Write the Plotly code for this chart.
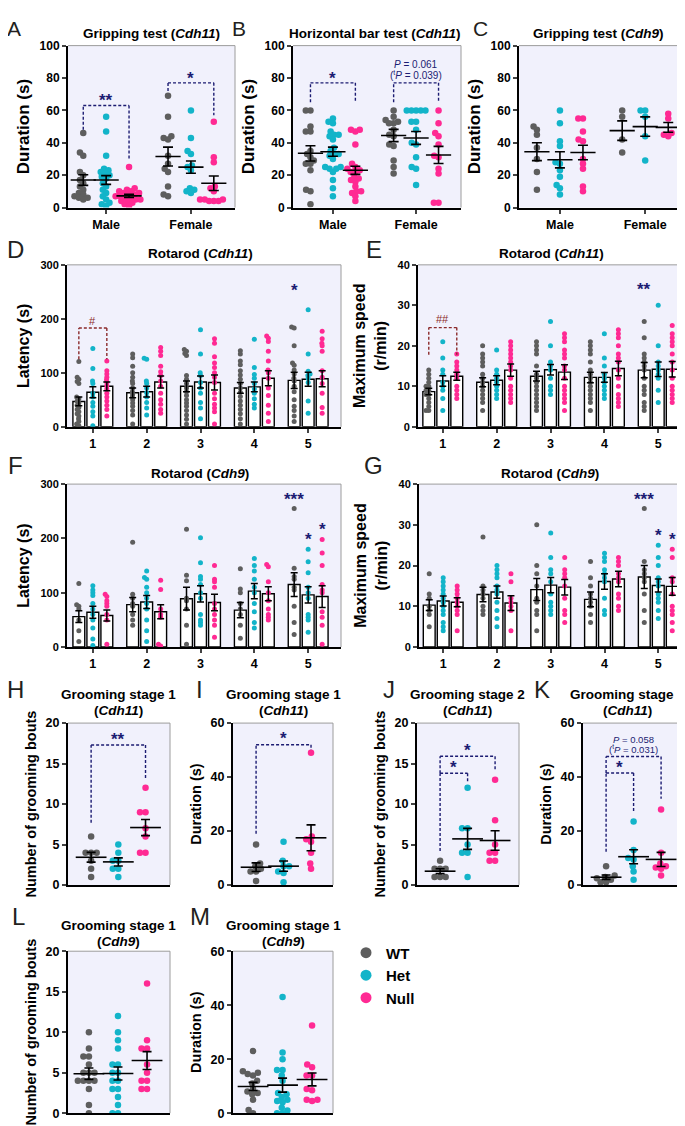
import math
import plotly.graph_objects as go

W, H = 685, 1126
GENOTYPES = ["WT", "Het", "Null"]
COLORS = ["#5e5e5e", "#13b4c9", "#ff2a93"]
NAVY = "#1c1c72"
DARKRED = "#8b2a2a"
BG = "#f1f1fc"
FONT = "Liberation Sans, Arial, sans-serif"

# ---------------- DATA ----------------
sexes = ["Male", "Female"]
days = [1, 2, 3, 4, 5]

# A: Gripping test (Cdh11) [sex][genotype]
A_points = [
    [[46, 34, 32, 22, 20, 17, 15, 13, 11, 9, 8, 7, 6, 5, 6],
     [56, 47, 32, 24, 23, 22, 21, 19, 18, 15, 13, 11, 9, 7, 5, 3, 2, 1, 20],
     [25, 12, 11, 10, 10, 9, 9, 8, 8, 7, 7, 6, 6, 5, 5, 4, 4, 3, 2, 1]],
    [[69, 56, 44, 43, 42, 32, 27, 24, 22, 13, 8, 7],
     [60, 43, 35, 33, 26, 25, 23, 12, 11, 10, 9],
     [53, 31, 28, 13, 10, 5, 5, 4, 4, 4, 5, 12]],
]
A_mean = [[17, 17, 7.2], [31.5, 25, 15]]
A_sem = [[3.3, 2.7, 1.0], [5.8, 3.8, 4.5]]

# B: Horizontal bar test (Cdh11)
B_points = [
    [[60, 60, 50, 47, 47, 35, 33, 31, 29, 27, 27, 23, 11, 10, 2],
     [55, 53, 52, 47, 45, 45, 44, 42, 37, 35, 33, 33, 32, 30, 25, 25, 24, 24, 22, 17, 12, 7],
     [48, 48, 47, 39, 27, 25, 24, 23, 22, 22, 19, 18, 17, 16, 13, 10, 10, 9, 7, 4]],
    [[60, 56, 54, 53, 52, 52, 48, 45, 44, 39, 38, 29, 25, 21],
     [60, 60, 60, 60, 60, 53, 53, 48, 40, 39, 31, 25, 24, 14],
     [60, 52, 46, 44, 39, 32, 31, 24, 21, 3, 3]],
]
B_mean = [[33.5, 34.5, 23], [44.5, 43, 32.5]]
B_sem = [[4.7, 2.8, 2.5], [3.8, 4.0, 5.3]]

# C: Gripping test (Cdh9)
C_points = [
    [[50, 48, 45, 37, 30, 22, 11],
     [60, 52, 41, 38, 28, 27, 23, 19, 14, 12, 8],
     [55, 55, 47, 42, 41, 30, 27, 24, 13, 10]],
    [[60, 56, 42, 34],
     [60, 60, 56, 44, 29],
     [58, 55, 46, 44, 45]],
]
C_mean = [[34.5, 29.5, 34], [47.5, 50, 49.5]]
C_sem = [[5.5, 5.0, 4.5], [6.0, 6.0, 3.0]]

# D: Rotarod latency (Cdh11) [genotype][day]
D_points = [
    [[121, 92, 88, 84, 80, 55, 52, 48, 44, 40, 36, 32, 28, 24, 20, 15, 10, 5, 2],
     [135, 128, 112, 100, 92, 85, 80, 72, 65, 60, 55, 50, 44, 38, 30, 22, 5],
     [143, 140, 136, 132, 95, 88, 80, 72, 65, 58, 50, 44, 38, 30, 22, 14, 5],
     [141, 135, 122, 115, 104, 96, 88, 80, 72, 64, 56, 48, 40, 32, 24, 15, 5],
     [185, 183, 150, 118, 114, 105, 98, 90, 85, 75, 65, 50, 38, 30, 20, 10]],
    [[145, 108, 85, 80, 62, 55, 45, 38, 28, 20, 2],
     [127, 125, 85, 80, 72, 63, 55, 45, 35, 22],
     [180, 135, 100, 95, 82, 72, 62, 45, 35, 15],
     [162, 110, 97, 90, 80, 70, 62, 52, 42, 35],
     [217, 135, 103, 98, 95, 90, 82, 48, 25]],
    [[122, 104, 98, 92, 87, 82, 76, 70, 62, 55, 48, 40, 32, 20],
     [147, 140, 132, 112, 102, 95, 85, 75, 62, 50, 42, 32, 25],
     [163, 155, 130, 118, 110, 100, 92, 82, 62, 52, 42, 35, 28, 5],
     [168, 164, 158, 140, 122, 105, 100, 90, 72, 58, 40, 25, 10],
     [177, 163, 155, 150, 140, 104, 92, 80, 62, 36, 25]],
]
D_mean = [[47, 63, 75, 72, 86], [64, 65, 83, 74, 88], [75, 83, 82, 90, 89]]
D_sem = [[8, 9, 10, 10, 15], [10, 10, 11, 9, 13], [8, 11, 14, 14, 15]]

# E: Rotarod maximum speed (Cdh11)
E_points = [
    [[14, 13, 12, 11, 10, 10, 9, 9, 8, 8, 7, 6, 5, 4, 4],
     [20, 18, 17, 16, 15, 13, 12, 11, 10, 9, 8, 7, 6, 4],
     [21, 20, 19, 18, 15, 13, 12, 11, 10, 9, 8, 7, 6, 5, 4],
     [21, 20, 19, 18, 16, 14, 13, 12, 11, 10, 9, 8, 7, 6, 4],
     [26, 22, 18, 17, 16, 15, 14, 12, 10, 9, 8, 6, 5, 4]],
    [[21, 17, 14, 13, 11, 10, 9, 7, 4],
     [19, 14, 13, 12, 11, 10, 9, 8, 7],
     [26, 20, 16, 15, 14, 12, 10, 9, 8],
     [23, 17, 15, 13, 12, 11, 10, 9, 8, 7],
     [30, 20, 16, 15, 14, 13, 12, 9, 6]],
    [[18, 16, 15, 14, 13, 12, 10, 9, 8, 7],
     [21, 20, 19, 18, 17, 16, 15, 14, 12, 10, 9, 8, 7, 6],
     [23, 22, 21, 19, 18, 17, 15, 14, 12, 10, 9, 8, 7, 6, 4],
     [24, 23, 22, 20, 18, 17, 16, 14, 12, 10, 8, 7, 6, 5],
     [25, 23, 22, 21, 20, 18, 16, 14, 12, 10, 9, 8, 7, 6]],
]
E_mean = [[8.7, 11, 12.5, 12.2, 14], [11.3, 11.5, 14.1, 12.2, 14.2], [12.5, 14, 13.5, 14.4, 14.2]]
E_sem = [[0.8, 1.1, 1.2, 1.3, 1.9], [1.3, 1.1, 1.3, 1.2, 1.8], [1.0, 1.5, 1.8, 1.8, 1.9]]

# F: Rotarod latency (Cdh9)
F_points = [
    [[117, 78, 75, 70, 50, 30, 10],
     [193, 97, 90, 80, 75, 60, 50, 40],
     [217, 132, 122, 90, 85, 70, 40, 5],
     [144, 107, 100, 80, 70, 60, 40, 16],
     [255, 145, 130, 125, 110, 105, 75, 45, 23]],
    [[113, 105, 100, 95, 80, 70, 60, 50, 35, 15, 3],
     [140, 128, 125, 110, 100, 90, 80, 70, 50, 30, 10],
     [201, 155, 130, 125, 115, 100, 90, 60, 50, 45, 40],
     [163, 150, 140, 125, 110, 100, 80, 65, 45, 35],
     [180, 157, 137, 110, 100, 90, 60, 55, 50, 27]],
    [[97, 93, 85, 80, 75, 60, 50, 5],
     [123, 106, 70, 60, 55, 5, 2],
     [150, 125, 120, 110, 80, 70, 60, 50, 40, 18],
     [152, 148, 120, 100, 85, 70, 60, 55, 50],
     [198, 173, 150, 115, 105, 100, 65, 55, 40, 5]],
]
F_mean = [[56, 78, 89, 68, 115], [64, 83, 98, 103, 96], [58, 65, 82, 98, 93]]
F_sem = [[11, 13, 21, 14, 22], [11, 12, 15, 14, 15], [10, 13, 15, 13, 20]]

# G: Rotarod maximum speed (Cdh9)
G_points = [
    [[18, 13, 12, 10, 9, 8, 5],
     [27, 15, 14, 13, 12, 10, 9, 8],
     [30, 20, 18, 15, 12, 11, 9, 8, 4],
     [21, 17, 15, 13, 12, 11, 10, 8, 6],
     [34, 21, 19, 18, 17, 16, 13, 9, 6]],
    [[17, 16, 15, 14, 13, 12, 11, 10, 9, 8, 6, 5, 4],
     [20, 19, 18, 17, 15, 14, 13, 11, 9, 7, 5],
     [28, 22, 19, 18, 16, 13, 11, 10, 9, 8],
     [23, 22, 21, 19, 18, 17, 16, 12, 9, 8],
     [25, 22, 20, 17, 16, 15, 13, 12, 11, 9, 7]],
    [[15, 14, 13, 12, 11, 10, 9, 8, 4],
     [18, 16, 12, 11, 10, 9, 4],
     [22, 19, 18, 17, 15, 12, 9, 8, 6],
     [22, 21, 20, 18, 17, 16, 13, 12, 10, 9],
     [24, 22, 17, 16, 13, 10, 9, 8, 6, 4]],
]
G_mean = [[10.3, 12.9, 14.1, 11.7, 17.2], [11.3, 13.5, 15.2, 16.1, 15.1], [11, 10.8, 14.7, 16.7, 14.9]]
G_sem = [[1.3, 1.8, 2.7, 1.8, 2.8], [1.2, 1.5, 1.9, 1.9, 1.6], [1.1, 1.8, 1.9, 1.9, 2.2]]

# H-M: grooming [genotype]
H_points = [[6, 4, 4, 4, 3, 2, 1], [5, 4, 3, 3, 2, 2, 1], [12, 9, 9, 7, 6, 4, 4]]
H_mean, H_sem = [3.43, 2.86, 7.1], [0.6, 0.5, 1.0]
I_points = [[15, 8, 7, 6, 5, 5, 1.5], [16, 9, 7, 7, 5, 4.5, 1], [49, 18, 17, 16, 12, 8, 6]]
I_mean, I_sem = [6.6, 7.0, 17.5], [1.6, 1.9, 4.8]
J_points = [[3, 2, 2, 2, 1, 1, 1], [12, 7, 7, 5, 4, 4, 1], [13, 8, 5, 4, 4, 3, 3]]
J_mean, J_sem = [1.71, 5.7, 5.5], [0.3, 1.3, 1.2]
K_points = [[7, 3.5, 3, 2.5, 2, 1, 1], [23.5, 13, 10, 9.5, 7, 5, 2], [28, 12, 8, 7, 6.5, 6, 3.5]]
K_mean, K_sem = [2.9, 10.5, 9.5], [0.8, 2.6, 2.6]
L_points = [[10, 8, 7, 7, 6, 5, 5, 5, 4, 4, 4, 4, 3, 1, 0],
            [12, 10, 9, 8, 6, 6, 5, 5, 4, 4, 3, 3, 2, 1, 0, 0],
            [16, 9, 8, 8, 6, 5, 4, 4, 3, 3]]
L_mean, L_sem = [4.87, 4.9, 6.5], [0.7, 0.8, 1.1]
M_points = [[23, 15.5, 15, 14.5, 14, 12, 11, 9, 8, 7.5, 7, 5, 1.2, 0],
            [43, 22.5, 20, 16, 16, 14, 12, 7.5, 7, 6, 5, 4.5, 4, 2, 1, 0, 0],
            [32.5, 18, 17, 14, 14, 9, 8.5, 5, 5, 4.5]]
M_mean, M_sem = [9.9, 10.4, 12.5], [1.5, 2.6, 2.4]

# ---------------- LAYOUT HELPERS ----------------
fig = go.Figure()
layout = dict(width=W, height=H, margin=dict(l=0, r=0, t=0, b=0),
              paper_bgcolor="white", plot_bgcolor=BG, font=dict(family=FONT, color="black"),
              showlegend=True)
shapes, annotations = [], []


def refs(n):
    return ("x" if n == 1 else f"x{n}"), ("y" if n == 1 else f"y{n}")


def add_axes(n, box, xr, yr, ytick, ytitle, xtickvals=None, xticktext=None, tstand=6, tsize=16,
             yfs=11, xfs=12.5):
    x0, x1, y0, y1 = box
    xk = "xaxis" if n == 1 else f"xaxis{n}"
    yk = "yaxis" if n == 1 else f"yaxis{n}"
    xr_, yr_ = refs(n)
    xa = dict(domain=[x0 / W, x1 / W], range=xr, anchor=yr_, showline=True, linecolor="black",
              linewidth=2, showgrid=False, zeroline=False, fixedrange=True)
    if xtickvals:
        xa.update(ticks="outside", ticklen=4, tickwidth=1.5, tickvals=xtickvals, ticktext=xticktext,
                  tickfont=dict(size=xfs, weight="bold"))
    else:
        xa.update(ticks="", showticklabels=False)
    layout[xk] = xa
    layout[yk] = dict(domain=[1 - y1 / H, 1 - y0 / H], range=yr, anchor=xr_, showline=True, linecolor="black",
                      linewidth=2, showgrid=False, zeroline=False, fixedrange=True,
                      ticks="outside", ticklen=4, tickwidth=1.5, tickvals=ytick,
                      tickfont=dict(size=yfs, weight="bold"),
                      title=dict(text=ytitle, standoff=tstand, font=dict(size=tsize, weight="bold")))
    shapes.append(dict(type="line", xref="paper", yref="paper", x0=x0 / W, x1=x1 / W,
                       y0=1 - y0 / H, y1=1 - y0 / H, line=dict(color="#9c9c9c", width=1), layer="above"))
    shapes.append(dict(type="line", xref="paper", yref="paper", x0=x1 / W, x1=x1 / W,
                       y0=1 - y0 / H, y1=1 - y1 / H, line=dict(color="#9c9c9c", width=1), layer="above"))


def swarm(vals, diam, ky):
    idx = sorted(range(len(vals)), key=lambda i: vals[i])
    placed, offs = [], [0.0] * len(vals)
    for i in idx:
        y = vals[i] * ky
        cands = [0.0]
        for (px, py) in placed:
            dy = abs(py - y)
            if dy < diam:
                dx = math.sqrt(diam * diam - dy * dy)
                cands += [px + dx, px - dx]
        cands.sort(key=lambda c: (abs(c), c))
        chosen = cands[-1]
        for c in cands:
            if all((c - px) ** 2 + (y - py) ** 2 >= diam * diam - 1e-6 for px, py in placed):
                chosen = c
                break
        placed.append((chosen, y))
        offs[i] = chosen
    return offs


def scale(box, xr, yr):
    kx = (box[1] - box[0]) / (xr[1] - xr[0])
    ky = (box[3] - box[2]) / (yr[1] - yr[0])
    return kx, ky


def add_points(n, centers, groups, colors, box, xr, yr, ms, spread):
    xa, ya = refs(n)
    kx, ky = scale(box, xr, yr)
    for c, vals, col in zip(centers, groups, colors):
        offs = swarm(vals, ms * spread, ky)
        fig.add_trace(go.Scatter(x=[c + o / kx for o in offs], y=vals, mode="markers",
                                 marker=dict(size=ms, color=col, line=dict(width=0)),
                                 xaxis=xa, yaxis=ya, showlegend=False, hoverinfo="skip"))


def add_meanbars(n, centers, means, sems, lw, cap):
    xa, ya = refs(n)
    fig.add_trace(go.Scatter(x=centers, y=means, mode="markers",
                             marker=dict(symbol="line-ew", size=lw, color="black",
                                         line=dict(width=1.6, color="black")),
                             error_y=dict(type="data", array=sems, color="black", thickness=1.6, width=cap),
                             xaxis=xa, yaxis=ya, showlegend=False, hoverinfo="skip"))


def bracket(n, xa_, xb_, ytop, yl, yr_, color):
    xa, ya = refs(n)
    for (p0, p1) in [((xa_, yl), (xa_, ytop)), ((xa_, ytop), (xb_, ytop)), ((xb_, ytop), (xb_, yr_))]:
        shapes.append(dict(type="line", xref=xa, yref=ya, x0=p0[0], y0=p0[1], x1=p1[0], y1=p1[1],
                           line=dict(color=color, width=1.4, dash="3px,2px"), layer="above"))


def label(n, x, y, text, color=NAVY, size=17, bold=True):
    xa, ya = refs(n)
    annotations.append(dict(xref=xa, yref=ya, x=x, y=y, text=text, showarrow=False,
                            xanchor="center", yanchor="middle",
                            font=dict(size=size, color=color, weight="bold" if bold else "normal")))


def ptext(x, y, text, size=13.5, xanchor="center", color="black", weight="bold"):
    annotations.append(dict(xref="paper", yref="paper", x=x / W, y=1 - y / H, text=text, showarrow=False,
                            xanchor=xanchor, yanchor="middle",
                            font=dict(size=size, color=color, weight=weight)))


# ---------------- PANELS A-C (sex x genotype dot plots) ----------------
SEX_OFF = [-0.27, 0.0, 0.27]
top_panels = [
    (1, (60, 227, 31, 195), [-0.45, 1.52], A_points, A_mean, A_sem, "Gripping test (<i>Cdh11</i>)", 143, "A", 6),
    (2, (285, 453, 31, 195), [-0.48, 1.54], B_points, B_mean, B_sem, "Horizontal bar test (<i>Cdh11</i>)", 367, "B", 231),
    (3, (511, 679, 31, 195), [-0.48, 1.49], C_points, C_mean, C_sem, "Gripping test (<i>Cdh9</i>)", 590, "C", 472),
]
for n, box, xr, pts, mn, se, title, tx, letter, lx in top_panels:
    yr = [0, 100]
    add_axes(n, box, xr, yr, [0, 20, 40, 60, 80, 100], "Duration (s)", [0, 1], sexes, tsize=17,
             yfs=12, xfs=12.5)
    for s in range(2):
        add_points(n, [s + o for o in SEX_OFF], pts[s], COLORS, box, xr, yr, 6.5, 0.72)
    for s in range(2):
        add_meanbars(n, [s + o for o in SEX_OFF], mn[s], se[s], 18, 5)
    ptext(tx, 19, title, 13.5)
    ptext(lx, 14, letter, 21, color="#231f20", weight="normal")

bracket(1, -0.27, 0.27, 63, 48, 30, NAVY)
label(1, 0, 66, "**")
bracket(1, 0.73, 1.27, 77, 72, 57, NAVY)
label(1, 1, 80, "*")
bracket(2, -0.27, 0.27, 77, 65, 65, NAVY)
label(2, 0, 80, "*")
bracket(2, 0.73, 1.27, 77, 65, 65, NAVY)
label(2, 1, 88.5, "<i>P</i> = 0.061", size=10, bold=False)
label(2, 1, 82, "(<sup>t</sup><i>P</i> = 0.039)", size=10, bold=False)

# ---------------- PANELS D-G (rotarod bar charts) ----------------
DAY_OFF = [-0.26, 0.0, 0.26]
rot_panels = [
    (4, (59, 333, 253, 417), [0.52, 5.61], [0, 300], [0, 100, 200, 300], "Latency (s)",
     D_points, D_mean, D_sem, "Rotarod (<i>Cdh11</i>)", 192, 242, "D", 8, 237),
    (5, (410, 675, 253, 417), [0.54, 5.46], [0, 40], [0, 10, 20, 30, 40], "Maximum speed<br>(r/min)",
     E_points, E_mean, E_sem, "Rotarod (<i>Cdh11</i>)", 543, 242, "E", 366, 237),
    (6, (59, 333, 475, 640), [0.52, 5.61], [0, 300], [0, 100, 200, 300], "Latency (s)",
     F_points, F_mean, F_sem, "Rotarod (<i>Cdh9</i>)", 192, 464, "F", 8, 456),
    (7, (411, 675, 475, 640), [0.55, 5.46], [0, 40], [0, 10, 20, 30, 40], "Maximum speed<br>(r/min)",
     G_points, G_mean, G_sem, "Rotarod (<i>Cdh9</i>)", 542, 464, "G", 366, 456),
]
for n, box, xr, yr, yt, ytitle, pts, mn, se, title, tx, ty, letter, lx, ly in rot_panels:
    add_axes(n, box, xr, yr, yt, ytitle, days, [str(d) for d in days], tstand=7, tsize=16,
             yfs=11, xfs=12.5)
    xa, ya = refs(n)
    bx, by = [], []
    for g in range(3):
        for di, d in enumerate(days):
            bx.append(d + DAY_OFF[g])
            by.append(mn[g][di])
    fig.add_trace(go.Bar(x=bx, y=by, width=0.22, marker=dict(color="white", line=dict(color="black", width=1.4)),
                         xaxis=xa, yaxis=ya, showlegend=False, hoverinfo="skip"))
    for g in range(3):
        add_points(n, [d + DAY_OFF[g] for d in days], pts[g], [COLORS[g]] * 5, box, xr, yr, 5, 0.55)
    ex, ey, ee = [], [], []
    for g in range(3):
        for di, d in enumerate(days):
            ex.append(d + DAY_OFF[g]); ey.append(mn[g][di]); ee.append(se[g][di])
    fig.add_trace(go.Scatter(x=ex, y=ey, mode="markers", marker=dict(size=1, color="rgba(0,0,0,0)"),
                             error_y=dict(type="data", array=ee, color="black", thickness=1.5, width=3.5),
                             xaxis=xa, yaxis=ya, showlegend=False, hoverinfo="skip"))
    ptext(tx, ty, title, 13.5)
    ptext(lx, ly, letter, 24, color="#231f20", weight="normal")

bracket(4, 1 - 0.26, 1 + 0.26, 183, 125, 125, DARKRED)
label(4, 1, 196, "#", color=DARKRED, size=11, bold=False)
label(4, 5 - 0.26, 252, "*")
bracket(5, 1 - 0.26, 1 + 0.26, 24.5, 17.8, 17.8, DARKRED)
label(5, 1, 26.6, "##", color=DARKRED, size=11, bold=False)
label(5, 5 - 0.26, 33.8, "**")
label(6, 5 - 0.26, 271, "***")
label(6, 5, 198, "*")
label(6, 5 + 0.26, 216, "*")
label(7, 5 - 0.26, 36.2, "***")
label(7, 5, 27.3, "*")
label(7, 5 + 0.26, 26.3, "*")

# ---------------- PANELS H-M (grooming) ----------------
groom_panels = [
    (8, (60, 162, 717, 881), [-0.85, 2.9], [0, 20], [0, 5, 10, 15, 20], "Number of grooming bouts",
     H_points, H_mean, H_sem, "Grooming stage 1", "(<i>Cdh11</i>)", 110, 688, "H", 8, 683),
    (9, (225, 325, 717, 881), [-0.84, 2.8], [0, 60], [0, 20, 40, 60], "Duration (s)",
     I_points, I_mean, I_sem, "Grooming stage 1", "(<i>Cdh11</i>)", 275, 688, "I", 191, 683),
    (10, (409, 511, 717, 881), [-0.84, 2.87], [0, 20], [0, 5, 10, 15, 20], "Number of grooming bouts",
     J_points, J_mean, J_sem, "Grooming stage 2", "(<i>Cdh11</i>)", 460, 688, "J", 381, 683),
    (11, (575, 677, 717, 881), [-0.84, 2.87], [0, 60], [0, 20, 40, 60], "Duration (s)",
     K_points, K_mean, K_sem, "Grooming stage 2", "(<i>Cdh11</i>)", 619, 688, "K", 534, 683),
    (12, (60, 162, 948, 1112), [-0.72, 2.79], [0, 20], [0, 5, 10, 15, 20], "Number of grooming bouts",
     L_points, L_mean, L_sem, "Grooming stage 1", "(<i>Cdh9</i>)", 110, 922, "L", 10, 913),
    (13, (225, 325, 948, 1112), [-0.68, 2.71], [0, 60], [0, 20, 40, 60], "Duration (s)",
     M_points, M_mean, M_sem, "Grooming stage 1", "(<i>Cdh9</i>)", 275, 922, "M", 192, 913),
]
for n, box, xr, yr, yt, ytitle, pts, mn, se, t1, t2, tx, ty, letter, lx, ly in groom_panels:
    add_axes(n, box, xr, yr, yt, ytitle, None, None, tstand=6, tsize=14.5, yfs=12.5)
    add_points(n, [0, 1, 2], pts, COLORS, box, xr, yr, 6.5, 0.85)
    add_meanbars(n, [0, 1, 2], mn, se, 22, 4.5)
    ptext(tx, ty, t1, 13.5)
    ptext(tx, ty + 16, t2, 13.5)
    ptext(lx, ly, letter, 24, color="#231f20", weight="normal")

bracket(8, 0, 2, 17.3, 7.7, 13, NAVY)
label(8, 1, 18.0, "**")
bracket(9, 0, 2, 52, 19, 50, NAVY)
label(9, 1, 54.2, "*")
bracket(10, 0, 1, 13.8, 4.2, 12.7, NAVY)
label(10, 0.5, 14.5, "*")
bracket(10, 0, 2, 15.9, 13.8, 14.2, NAVY)
label(10, 1, 16.6, "*")
bracket(11, 0, 1, 41.5, 12.3, 27, NAVY)
label(11, 0.5, 43.6, "*")
bracket(11, 0, 2, 47.6, 41.5, 32, NAVY)
label(11, 1, 54, "<i>P</i> = 0.058", size=9.5, bold=False)
label(11, 1, 50.3, "(<sup>t</sup><i>P</i> = 0.031)", size=9.5, bold=False)

# ---------------- LEGEND ----------------
for g, name in enumerate(GENOTYPES):
    fig.add_trace(go.Scatter(x=[None], y=[None], mode="markers", name=name,
                             marker=dict(size=11, color=COLORS[g]), xaxis="x13", yaxis="y13",
                             showlegend=True, hoverinfo="skip"))
layout["legend"] = dict(x=338 / W, y=1 - 933 / H, xanchor="left", yanchor="top",
                        font=dict(size=15, weight="bold"), bgcolor="rgba(0,0,0,0)",
                        itemsizing="trace", tracegroupgap=0)

layout["shapes"] = shapes
layout["annotations"] = annotations
fig.update_layout(**layout)
fig.write_html("out.html")
